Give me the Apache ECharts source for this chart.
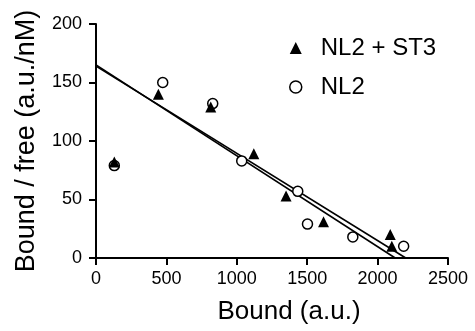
<!DOCTYPE html>
<html>
<head>
<meta charset="utf-8">
<script src="https://cdn.jsdelivr.net/npm/echarts@6/dist/echarts.min.js"></script>
<style>
  html, body { margin: 0; padding: 0; background: #fff; }
  #chart { width: 475px; height: 331px; }
</style>
</head>
<body>
<div id="chart"></div>
<script>
// scatter points, [bound, bound/free]
const nl2St3Points = [
  [130, 82], [443, 140], [815, 129], [1121, 89], [1350, 53],
  [1616, 31], [2090, 20], [2101, 10]
];
const nl2Points = [
  [130, 79], [474, 150], [829, 132], [1035, 83], [1433, 57],
  [1502, 29], [1824, 18], [2185, 10]
];
// fitted lines, endpoints
const nl2St3Fit = [[0, 165], [2125, 0]];
const nl2Fit = [[0, 164], [2200, 0]];

const xTicks = [0, 500, 1000, 1500, 2000, 2500];
const yTicks = [0, 50, 100, 150, 200];

const font = 'Liberation Sans, Arial, sans-serif';
const chart = echarts.init(document.getElementById('chart'));

const axisCommon = {
  axisLine: { show: true, lineStyle: { color: '#000', width: 2 } },
  axisTick: { show: true, length: 7, lineStyle: { color: '#000', width: 2 } },
  splitLine: { show: false },
};

chart.setOption({
  animation: false,
  grid: { left: 96, right: 27, top: 24, bottom: 73 },
  legend: {
    orient: 'vertical',
    left: 284,
    top: 31,
    itemWidth: 12,
    itemHeight: 12,
    itemGap: 15,
    textStyle: { fontSize: 24, color: '#000', fontFamily: font, padding: [0, 0, 0, 14] },
    data: [
      { name: 'NL2 + ST3', icon: 'triangle', itemStyle: { color: '#000' } },
      { name: 'NL2', icon: 'circle', itemStyle: { color: '#fff', borderColor: '#000', borderWidth: 1.5 } },
    ],
  },
  xAxis: {
    type: 'value',
    min: xTicks[0],
    max: xTicks[xTicks.length - 1],
    interval: 500,
    name: 'Bound (a.u.)',
    nameLocation: 'middle',
    nameGap: 41,
    nameTextStyle: { fontSize: 26, color: '#000', fontFamily: font, padding: [0, 0, 0, 34] },
    axisLabel: { fontSize: 18, color: '#000', fontFamily: font, margin: 12, formatter: (v) => String(v) },
    ...axisCommon,
  },
  yAxis: {
    type: 'value',
    min: yTicks[0],
    max: yTicks[yTicks.length - 1],
    interval: 50,
    name: 'Bound / free (a.u./nM)',
    nameLocation: 'middle',
    nameGap: 56,
    nameTextStyle: { fontSize: 27, color: '#000', fontFamily: font },
    axisLabel: { fontSize: 18, color: '#000', fontFamily: font, margin: 14, formatter: (v) => String(v) },
    ...axisCommon,
  },
  series: [
    {
      name: 'fit NL2 + ST3',
      type: 'line',
      data: nl2St3Fit,
      symbol: 'none',
      silent: true,
      lineStyle: { color: '#000', width: 1.6 },
      z: 1,
    },
    {
      name: 'fit NL2',
      type: 'line',
      data: nl2Fit,
      symbol: 'none',
      silent: true,
      lineStyle: { color: '#000', width: 1.6 },
      z: 1,
    },
    {
      name: 'NL2',
      type: 'scatter',
      data: nl2Points,
      symbol: 'circle',
      symbolSize: 10,
      itemStyle: { color: '#fff', borderColor: '#000', borderWidth: 1.5, opacity: 1 },
      z: 2,
    },
    {
      name: 'NL2 + ST3',
      type: 'scatter',
      data: nl2St3Points,
      symbol: 'triangle',
      symbolSize: 11,
      itemStyle: { color: '#000', opacity: 1 },
      z: 3,
    },
  ],
});
</script>
</body>
</html>
